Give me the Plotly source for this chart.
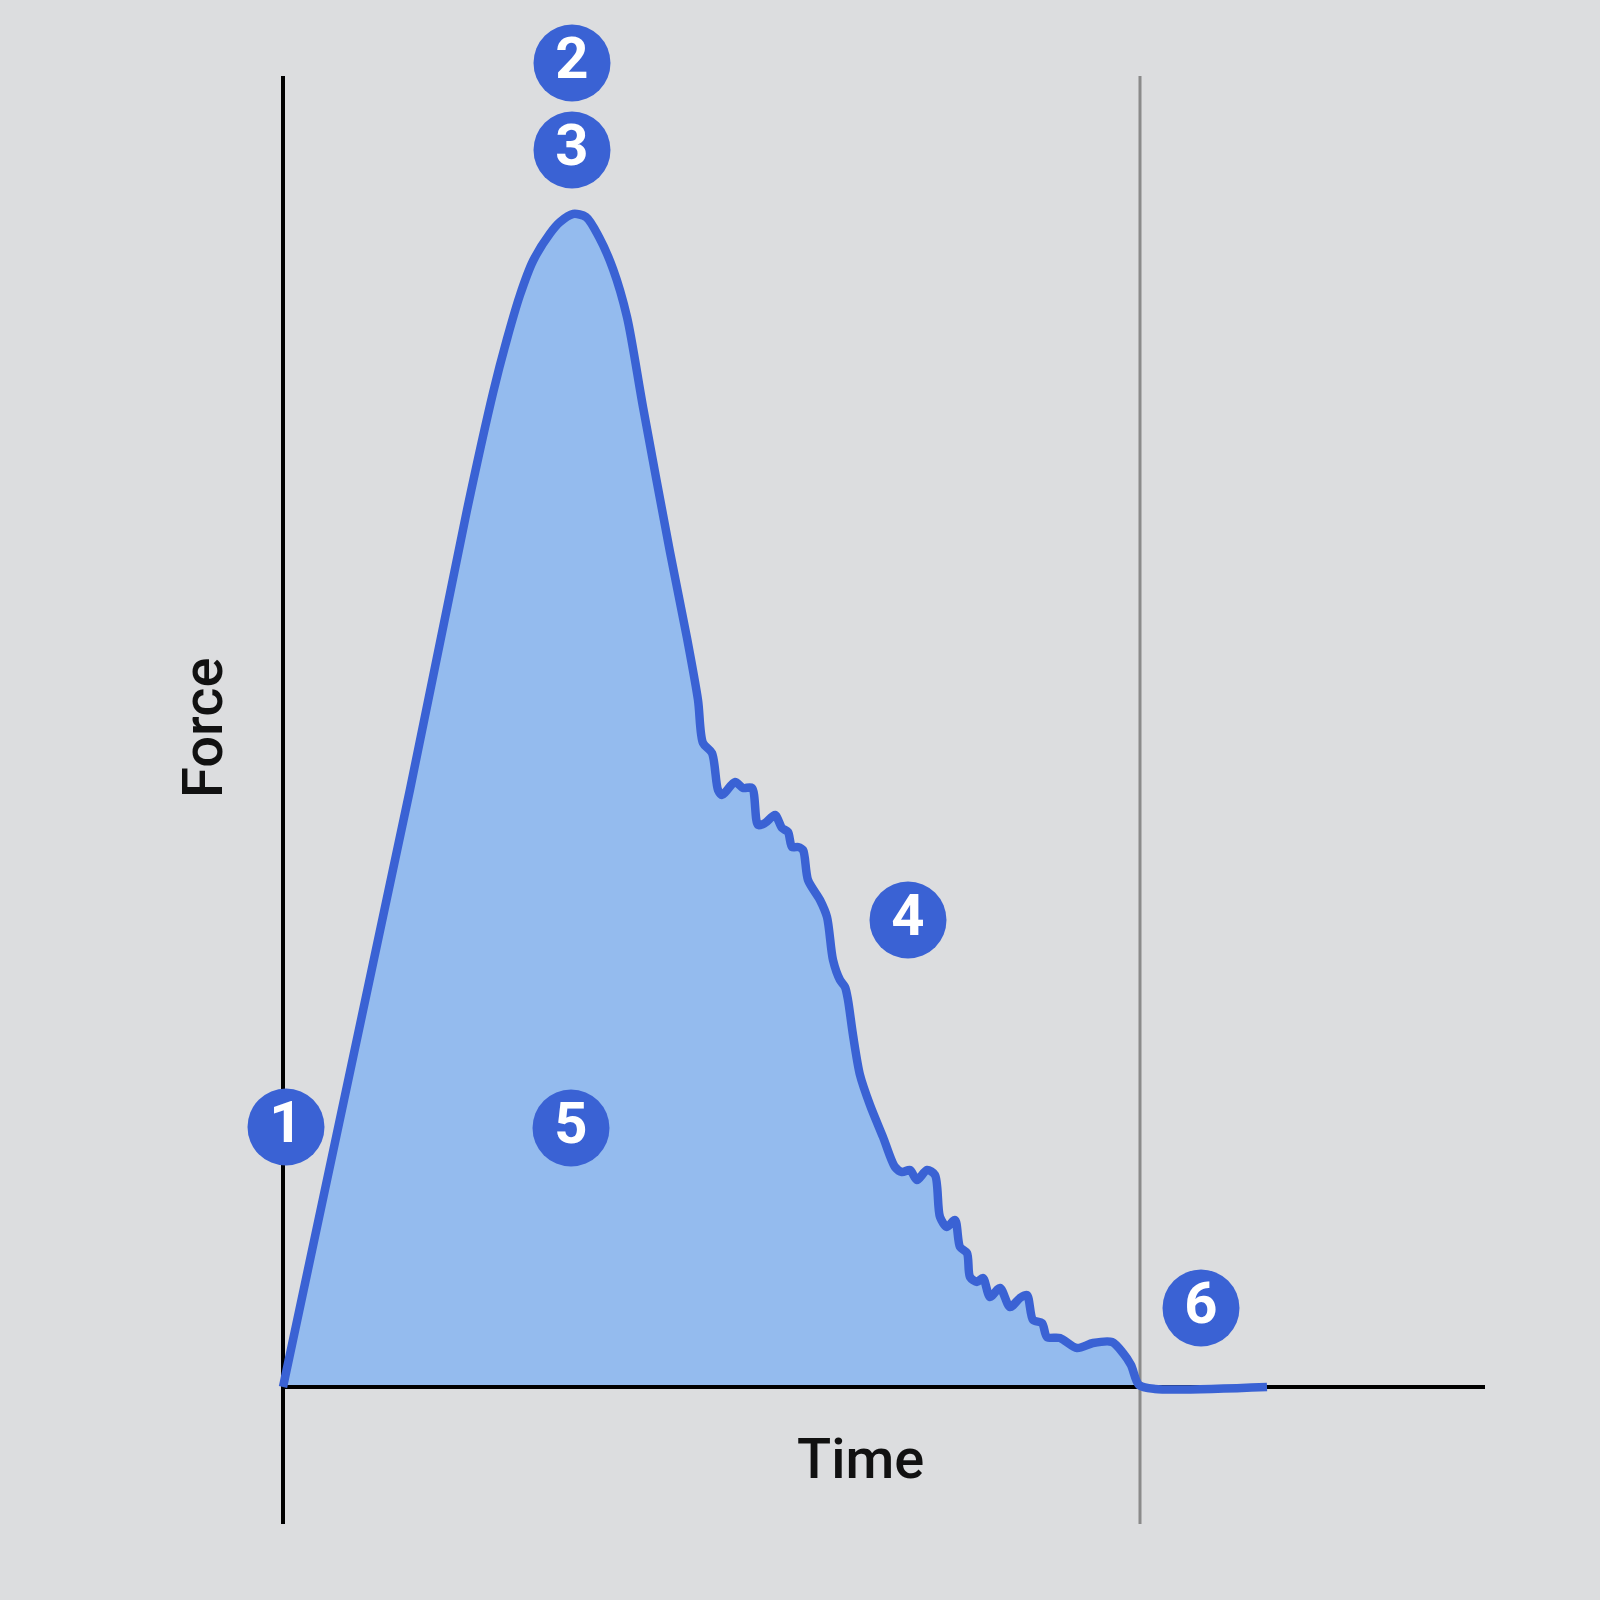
import plotly.graph_objects as go

# force-time trace of one ground contact (time in ms, force in N)
time_ms = [0, 31.75, 46, 52.5, 56, 59.25, 62.5, 66.75, 69.25, 72.5, 75.75,
           79, 82.5, 86, 90, 96.75, 101, 103.75, 105,
           107.25, 108.75, 109.75, 113, 115, 117.25, 118.75, 120.5, 123, 124.75, 126.25,
           127.25, 128.75, 130, 131.25, 134.25, 136, 137.5, 139.25, 140.5, 141.25,
           142.5, 144.25, 146.75, 150, 153, 154.75, 156.75, 158.5, 161, 163, 164.25,
           166, 168, 169.25, 171, 171.75, 173.5, 175, 176.75, 179.25, 181.75, 184.25,
           186, 187.5, 189.75, 191, 194.25, 198.5, 202.5, 207.25, 210, 212, 214, 218,
           246]
force_n = [0, 1195, 1754, 1988, 2096, 2184, 2252, 2307, 2330, 2346, 2340,
           2300, 2236, 2140, 1960, 1670, 1498, 1374, 1288,
           1268, 1194, 1184, 1210, 1198, 1198, 1124, 1128, 1144, 1118, 1110,
           1080, 1080, 1074, 1014, 974, 940, 854, 814, 800, 774,
           704, 624, 564, 500, 440, 430, 434, 414, 434, 424, 340,
           320, 334, 280, 268, 220, 210, 218, 180, 198, 160, 178,
           184, 134, 128, 100, 98, 78, 88, 90, 68, 44, 4, -4,
           0]

contact_end = 214.25
axis_time = [0, 300.5]
axis_force = [-274, 2622]

# numbered markers
marker_labels = ["1", "2", "3", "4", "5", "6"]
marker_time = [0.75, 72.25, 72.25, 156.25, 72, 229.5]
marker_force = [520, 2648, 2474, 934, 518, 158]

BG = "#dcdddf"
LINE = "#3a62d4"
FILL = "#94bbee"

fig = go.Figure()

# filled area under the curve
fig.add_trace(go.Scatter(x=time_ms, y=force_n, mode="lines", fill="tozeroy",
                         fillcolor=FILL, line=dict(width=0, shape="spline", smoothing=0.8),
                         hoverinfo="skip"))

# axes
fig.add_trace(go.Scatter(x=[0, 0], y=axis_force, mode="lines",
                         line=dict(color="black", width=4), hoverinfo="skip"))
fig.add_trace(go.Scatter(x=axis_time, y=[0, 0], mode="lines",
                         line=dict(color="black", width=4), hoverinfo="skip"))
fig.add_trace(go.Scatter(x=[contact_end, contact_end], y=axis_force, mode="lines",
                         line=dict(color="#8a8a8a", width=3), hoverinfo="skip"))

# the force curve
fig.add_trace(go.Scatter(x=time_ms, y=force_n, mode="lines",
                         line=dict(color=LINE, width=8.5, shape="spline", smoothing=0.8)))

fig.add_trace(go.Scatter(x=marker_time, y=marker_force, mode="markers+text",
                         text=marker_labels, textposition="middle center",
                         marker=dict(size=77, color=LINE),
                         textfont=dict(family="Roboto", size=58, color="white", weight="bold")))

fig.add_annotation(x=144.25, y=-144, text="Time", showarrow=False,
                   font=dict(family="Roboto", size=56, color="#111111", weight=500))
fig.add_annotation(x=-20, y=1318, text="Force", showarrow=False, textangle=-90,
                   font=dict(family="Roboto", size=56, color="#111111", weight=500))

fig.update_layout(
    width=1600, height=1600,
    margin=dict(l=0, r=0, t=0, b=0),
    paper_bgcolor=BG, plot_bgcolor=BG,
    showlegend=False,
    xaxis=dict(range=[-70.75, 329.25], visible=False),
    yaxis=dict(range=[-426, 2774], visible=False),
)

fig.write_html("out.html", config={"displayModeBar": False},
               post_script="document.body.style.margin='0';")
